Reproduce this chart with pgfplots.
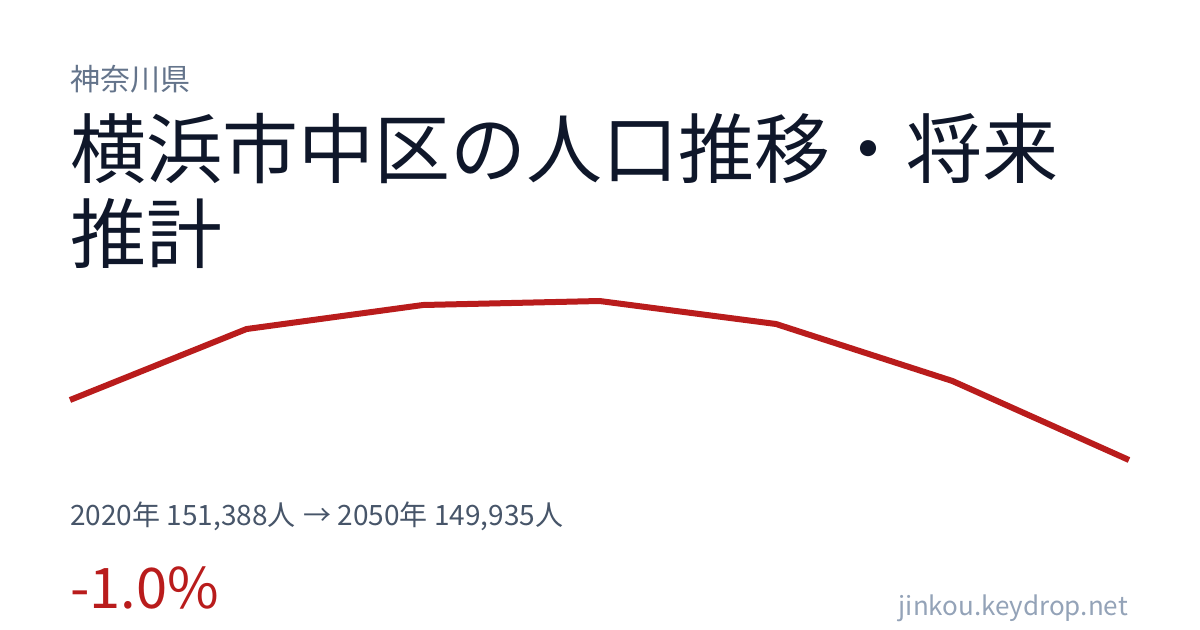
\documentclass[border=0pt]{standalone}
\usepackage{fontspec}
\setmainfont{Noto Sans CJK JP}
\usepackage{pgfplots}
\pgfplotsset{compat=1.18}
\definecolor{titlec}{HTML}{0F172A}
\definecolor{prefc}{HTML}{64748B}
\definecolor{subc}{HTML}{475569}
\definecolor{redc}{HTML}{B91C1C}
\definecolor{sitec}{HTML}{94A3B8}

\begin{document}
\begin{tikzpicture}[x=1bp,y=1bp]
  % page 1200 x 630, y measured downward from the top
  \fill[white] (0,0) rectangle (1200,-630);

  \node[anchor=base west,inner sep=0,text=prefc,font=\fontsize{30bp}{34bp}\selectfont] at (70,-91) {神奈川県};
  \node[anchor=base west,inner sep=0,text=titlec,font=\fontsize{76bp}{86bp}\selectfont] at (70,-178) {横浜市中区の人口推移・将来};
  \node[anchor=base west,inner sep=0,text=titlec,font=\fontsize{76bp}{86bp}\selectfont] at (70,-263) {推計};

  \begin{axis}[
    at={(70bp,-460bp)},
    anchor=south west,
    scale only axis,
    width=1059bp,
    height=159bp,
    hide axis,
    clip=false,
    xmin=2020, xmax=2050,
    ymin=149935, ymax=153786,
  ]
    \addplot[redc, line width=6bp, line join=miter] coordinates {
      (2020,151388) (2025,153107) (2030,153689) (2035,153786)
      (2040,153229) (2045,151848) (2050,149935)
    };
  \end{axis}

  \node[anchor=base west,inner sep=0,text=subc,font=\fontsize{28bp}{32bp}\selectfont] at (70,-525) {2020年 151,388人\hspace{8bp}→\hspace{6bp}2050年 149,935人};
  \node[anchor=base west,inner sep=0,text=redc,font=\fontsize{56bp}{64bp}\selectfont] at (70,-608) {-1.0\%};
  \node[anchor=base east,inner sep=0,text=sitec,font=\fontsize{26bp}{30bp}\selectfont] at (1128,-615) {jinkou.keydrop.net};
\end{tikzpicture}
\end{document}
